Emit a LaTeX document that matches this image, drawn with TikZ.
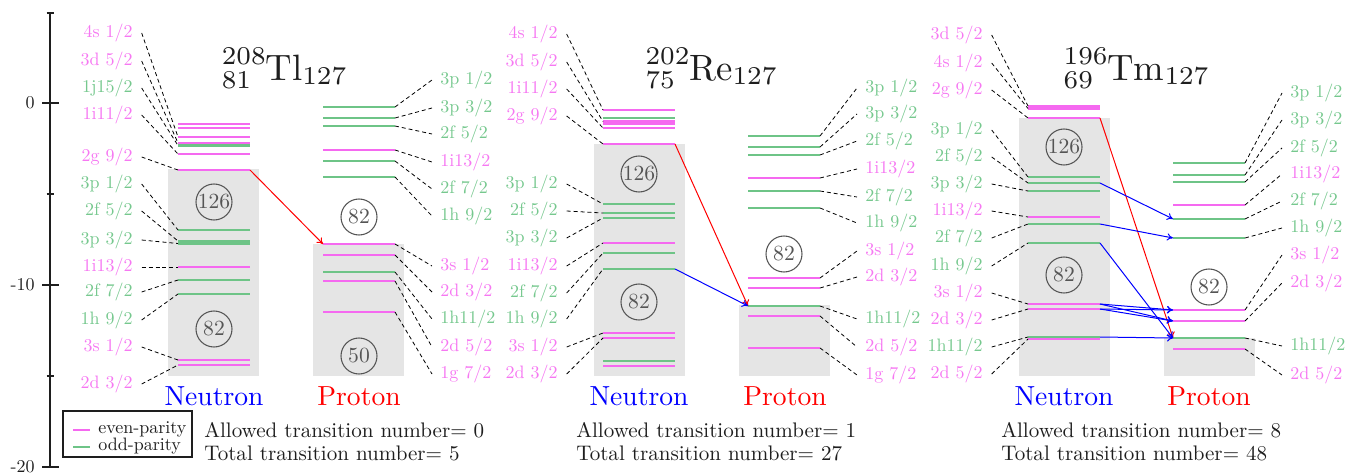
\documentclass[tikz,border=0pt]{standalone}
\usetikzlibrary{arrows.meta}
\definecolor{pk}{RGB}{245,105,240}
\definecolor{gn}{RGB}{110,196,135}
\definecolor{pkt}{RGB}{246,120,242}
\definecolor{gnt}{RGB}{118,200,142}
\definecolor{boxgray}{RGB}{229,229,229}
\definecolor{cgray}{RGB}{85,85,85}
\definecolor{ink}{RGB}{30,30,30}
\tikzset{
 base font/.style={font=\fontsize{10}{12}\selectfont},
 lev/.style={line width=2.2pt},
 dsh/.style={black, line width=0.6pt, dash pattern=on 3pt off 2.2pt},
 lab/.style={inner sep=0pt, base font},
 shellbox/.style={fill=boxgray, draw=none},
 magic/.style={circle, draw=cgray, line width=0.8pt, minimum size=27pt, inner sep=0pt, text=cgray, base font},
 side/.style={base font, anchor=base, inner sep=0pt},
 info/.style={base font, anchor=base west, text=ink, inner sep=0pt},
 ttl/.style={base font, anchor=base, text=ink, inner sep=0pt},
 trans/.style={line width=0.75pt, -{To[length=4.5pt,width=5.5pt]}},
 axis/.style={line width=0.9pt, ink},
}
\newcommand\LT[1]{\scalebox{1.35}{#1}}
\newcommand\IT[1]{\scalebox{1.58}{#1}}
\newcommand\ST[1]{\scalebox{2.07}{#1}}
\newcommand\MT[1]{\scalebox{1.62}{#1}}
\newcommand\scr[1]{{\fontsize{7}{8}\selectfont #1}}
\newcommand\Nuc[4]{\scalebox{2.75}{\rlap{\raisebox{-2.4pt}{\scr{#2}}}\raisebox{4.3pt}{\scr{#1}}#3\raisebox{-1.2pt}{\scr{#4}}}}
% level: name x1 x2 y colour
\newcommand\Lv[5]{\draw[lev,#5] (#2,#4) coordinate (#1L) -- (#3,#4) coordinate (#1R);}
% neutron-side label: name text colour (x,y) target
\newcommand\NLab[5]{\node[lab,text=#3,anchor=east] (#1) at (#4) {\LT{#2}};
 \draw[dsh] ([xshift=6.5pt]#1.east) -- (#5L);}
% proton-side label
\newcommand\PLab[5]{\node[lab,text=#3,anchor=west] (#1) at (#4) {\LT{#2}};
 \draw[dsh] (#5R) -- ([xshift=-6pt]#1.west);}
\begin{document}
\begin{tikzpicture}[x=0.75pt,y=-0.75pt]
\useasboundingbox (0,0) rectangle (1370,475);

% axis
\draw[axis] (50,13) -- (50,467);
\foreach \yy in {103,285,467} \draw[axis] (42,\yy) -- (59,\yy);
\foreach \yy in {13,194,376} \draw[axis] (46.5,\yy) -- (54,\yy);
\node[lab,anchor=east,text=ink] (t0) at (35,103) {\LT{0}};
\node[lab,anchor=east,text=ink] (t10) at (35,285) {\LT{-10}};
\node[lab,anchor=east,text=ink] (t20) at (35,467) {\LT{-20}};

% legend
\draw[line width=1pt, ink] (63,411) rectangle (192,457);
\draw[pk,line width=1pt] (73,430) -- (90,430);
\draw[gn,line width=1pt] (73,447) -- (90,447);
\node[lab,anchor=west,text=ink] (le) at (98,429) {\LT{even-parity}};
\node[lab,anchor=west,text=ink] (lo) at (98,446) {\LT{odd-parity}};

%================ panel 1 : Tl
\fill[shellbox] (168,169) rectangle (259,376);
\fill[shellbox] (313,244) rectangle (404,376);
\node[ttl] (T1) at (284,80) {\Nuc{208}{81}{Tl}{127}};
\Lv{a1}{178}{250}{124}{pk}
\Lv{a2}{178}{250}{128}{pk}
\Lv{a3}{178}{250}{137}{pk}
\Lv{a4g}{178}{250}{145.5}{gn}
\Lv{a4}{178}{250}{143}{pk}
\Lv{a5}{178}{250}{154}{pk}
\Lv{a6}{178}{250}{170}{pk}
\Lv{a7}{178}{250}{230}{gn}
\Lv{a8}{178}{250}{241}{gn}
\Lv{a9}{178}{250}{243.5}{gn}
\Lv{a10}{178}{250}{267}{pk}
\Lv{a11}{178}{250}{280}{gn}
\Lv{a12}{178}{250}{294}{gn}
\Lv{a13}{178}{250}{360}{pk}
\Lv{a14}{178}{250}{365}{pk}
\NLab{na1}{4s 1/2}{pkt}{133,33}{a3}
\NLab{na2}{3d 5/2}{pkt}{133,61}{a4}
\NLab{na3}{1j15/2}{gnt}{133,88}{a4g}
\NLab{na4}{1i11/2}{pkt}{133,115}{a5}
\NLab{na5}{2g 9/2}{pkt}{133,157}{a6}
\NLab{na6}{3p 1/2}{gnt}{133,184}{a7}
\NLab{na7}{2f 5/2}{gnt}{133,211}{a8}
\NLab{na8}{3p 3/2}{gnt}{133,240}{a9}
\NLab{na9}{1i13/2}{pkt}{133,267}{a10}
\NLab{na10}{2f 7/2}{gnt}{133,292}{a11}
\NLab{na11}{1h 9/2}{gnt}{133,320}{a12}
\NLab{na12}{3s 1/2}{pkt}{133,347}{a13}
\NLab{na13}{2d 3/2}{pkt}{133,384}{a14}
\Lv{b1}{323}{395}{107}{gn}
\Lv{b2}{323}{395}{118}{gn}
\Lv{b3}{323}{395}{126}{gn}
\Lv{b4}{323}{395}{150}{pk}
\Lv{b5}{323}{395}{161}{gn}
\Lv{b6}{323}{395}{177}{gn}
\Lv{b7}{323}{395}{244}{pk}
\Lv{b8}{323}{395}{255}{pk}
\Lv{b9}{323}{395}{272}{gn}
\Lv{b10}{323}{395}{281}{pk}
\Lv{b11}{323}{395}{312}{pk}
\PLab{pb1}{3p 1/2}{gnt}{440,80}{b1}
\PLab{pb2}{3p 3/2}{gnt}{440,108}{b2}
\PLab{pb3}{2f 5/2}{gnt}{440,134}{b3}
\PLab{pb4}{1i13/2}{pkt}{440,162}{b4}
\PLab{pb5}{2f 7/2}{gnt}{440,189}{b5}
\PLab{pb6}{1h 9/2}{gnt}{440,216}{b6}
\PLab{pb7}{3s 1/2}{pkt}{440,266}{b7}
\PLab{pb8}{2d 3/2}{pkt}{440,292}{b8}
\PLab{pb9}{1h11/2}{gnt}{440,319}{b9}
\PLab{pb10}{2d 5/2}{pkt}{440,347}{b10}
\PLab{pb11}{1g 7/2}{pkt}{440,374}{b11}
\node[magic] (m1a) at (214,202) {\MT{126}};
\node[magic] (m1b) at (214,329) {\MT{82}};
\node[magic] (m1c) at (359,217) {\MT{82}};
\node[magic] (m1d) at (359,356) {\MT{50}};
\draw[trans,red] (a6R) -- (b7L);
\node[side,text=blue] (N1) at (214,405) {\ST{Neutron}};
\node[side,text=red] (P1) at (359,405) {\ST{Proton}};
\node[info] (A1) at (204,437) {\IT{Allowed transition number= 0}};
\node[info] (S1) at (204,460) {\IT{Total transition number= 5}};

%================ panel 2 : Re
\fill[shellbox] (594,144) rectangle (685,376);
\fill[shellbox] (739,305) rectangle (830,376);
\node[ttl] (T2) at (711,80) {\Nuc{202}{75}{Re}{127}};
\Lv{c1}{603}{675}{110}{pk}
\Lv{c2}{603}{675}{118}{gn}
\Lv{c3}{603}{675}{121.5}{pk}
\Lv{c4}{603}{675}{124}{pk}
\Lv{c5}{603}{675}{128}{pk}
\Lv{c6}{603}{675}{144}{pk}
\Lv{c7}{603}{675}{204}{gn}
\Lv{c8}{603}{675}{213}{gn}
\Lv{c9}{603}{675}{218}{gn}
\Lv{c10}{603}{675}{243}{pk}
\Lv{c11}{603}{675}{253}{gn}
\Lv{c12}{603}{675}{269}{gn}
\Lv{c13}{603}{675}{333}{pk}
\Lv{c14}{603}{675}{338}{pk}
\Lv{c15}{603}{675}{361}{gn}
\Lv{c16}{603}{675}{366}{pk}
\NLab{nc1}{4s 1/2}{pkt}{558,34}{c1}
\NLab{nc2}{3d 5/2}{pkt}{558,62}{c3}
\NLab{nc3}{1i11/2}{pkt}{558,89}{c5}
\NLab{nc4}{2g 9/2}{pkt}{558,116}{c6}
\NLab{nc5}{3p 1/2}{gnt}{558,184}{c7}
\NLab{nc6}{2f 5/2}{gnt}{558,211}{c8}
\NLab{nc7}{3p 3/2}{gnt}{558,238}{c9}
\NLab{nc8}{1i13/2}{pkt}{558,266}{c10}
\NLab{nc9}{2f 7/2}{gnt}{558,293}{c11}
\NLab{nc10}{1h 9/2}{gnt}{558,319}{c12}
\NLab{nc11}{3s 1/2}{pkt}{558,347}{c13}
\NLab{nc12}{2d 3/2}{pkt}{558,374}{c14}
\Lv{d1}{748}{820}{136}{gn}
\Lv{d2}{748}{820}{147}{gn}
\Lv{d3}{748}{820}{155}{gn}
\Lv{d4}{748}{820}{178}{pk}
\Lv{d5}{748}{820}{191}{gn}
\Lv{d6}{748}{820}{208}{gn}
\Lv{d7}{748}{820}{278}{pk}
\Lv{d8}{748}{820}{288}{pk}
\Lv{d9}{748}{820}{306}{gn}
\Lv{d10}{748}{820}{316}{pk}
\Lv{d11}{748}{820}{348}{pk}
\PLab{pd1}{3p 1/2}{gnt}{865,88}{d1}
\PLab{pd2}{3p 3/2}{gnt}{865,114}{d2}
\PLab{pd3}{2f 5/2}{gnt}{865,141}{d3}
\PLab{pd4}{1i13/2}{pkt}{865,169}{d4}
\PLab{pd5}{2f 7/2}{gnt}{865,197}{d5}
\PLab{pd6}{1h 9/2}{gnt}{865,223}{d6}
\PLab{pd7}{3s 1/2}{pkt}{865,251}{d7}
\PLab{pd8}{2d 3/2}{pkt}{865,277}{d8}
\PLab{pd9}{1h11/2}{gnt}{865,319}{d9}
\PLab{pd10}{2d 5/2}{pkt}{865,347}{d10}
\PLab{pd11}{1g 7/2}{pkt}{865,375}{d11}
\node[magic] (m2a) at (639,174) {\MT{126}};
\node[magic] (m2b) at (639,302) {\MT{82}};
\node[magic] (m2c) at (784,254) {\MT{82}};
\draw[trans,red] (c6R) -- (d9L);
\draw[trans,blue] (c12R) -- (d9L);
\node[side,text=blue] (N2) at (639,405) {\ST{Neutron}};
\node[side,text=red] (P2) at (785,405) {\ST{Proton}};
\node[info] (A2) at (576,437) {\IT{Allowed transition number= 1}};
\node[info] (S2) at (576,460) {\IT{Total transition number= 27}};

%================ panel 3 : Tm
\fill[shellbox] (1019,118) rectangle (1110,376);
\fill[shellbox] (1164,338) rectangle (1255,376);
\node[ttl] (T3) at (1136,80) {\Nuc{196}{69}{Tm}{127}};
\Lv{e1}{1028}{1100}{106}{pk}
\Lv{e2}{1028}{1100}{108.5}{pk}
\Lv{e3}{1028}{1100}{118}{pk}
\Lv{e4}{1028}{1100}{177}{gn}
\Lv{e5}{1028}{1100}{183}{gn}
\Lv{e6}{1028}{1100}{191}{gn}
\Lv{e7}{1028}{1100}{217}{pk}
\Lv{e8}{1028}{1100}{224}{gn}
\Lv{e9}{1028}{1100}{243}{gn}
\Lv{e10}{1028}{1100}{304}{pk}
\Lv{e11}{1028}{1100}{309}{pk}
\Lv{e12p}{1028}{1100}{339}{pk}
\Lv{e12}{1028}{1100}{337}{gn}
\NLab{ne1}{3d 5/2}{pkt}{983,35}{e1}
\NLab{ne2}{4s 1/2}{pkt}{983,63}{e2}
\NLab{ne3}{2g 9/2}{pkt}{983,90}{e3}
\NLab{ne4}{3p 1/2}{gnt}{983,130}{e4}
\NLab{ne5}{2f 5/2}{gnt}{983,157}{e5}
\NLab{ne6}{3p 3/2}{gnt}{983,184}{e6}
\NLab{ne7}{1i13/2}{pkt}{983,211}{e7}
\NLab{ne8}{2f 7/2}{gnt}{983,238}{e8}
\NLab{ne9}{1h 9/2}{gnt}{983,266}{e9}
\NLab{ne10}{3s 1/2}{pkt}{983,293}{e10}
\NLab{ne11}{2d 3/2}{pkt}{983,320}{e11}
\NLab{ne12}{1h11/2}{gnt}{983,347}{e12}
\NLab{ne13}{2d 5/2}{pkt}{983,374}{e12p}
\Lv{f1}{1173}{1245}{163}{gn}
\Lv{f2}{1173}{1245}{175}{gn}
\Lv{f3}{1173}{1245}{182}{gn}
\Lv{f4}{1173}{1245}{205}{pk}
\Lv{f5}{1173}{1245}{219}{gn}
\Lv{f6}{1173}{1245}{238}{gn}
\Lv{f7}{1173}{1245}{310}{pk}
\Lv{f8}{1173}{1245}{321}{pk}
\Lv{f9}{1173}{1245}{338}{gn}
\Lv{f10}{1173}{1245}{349}{pk}
\PLab{pf1}{3p 1/2}{gnt}{1290,93}{f1}
\PLab{pf2}{3p 3/2}{gnt}{1290,120}{f2}
\PLab{pf3}{2f 5/2}{gnt}{1290,148}{f3}
\PLab{pf4}{1i13/2}{pkt}{1290,174}{f4}
\PLab{pf5}{2f 7/2}{gnt}{1290,201}{f5}
\PLab{pf6}{1h 9/2}{gnt}{1290,228}{f6}
\PLab{pf7}{3s 1/2}{pkt}{1290,255}{f7}
\PLab{pf8}{2d 3/2}{pkt}{1290,283}{f8}
\PLab{pf9}{1h11/2}{gnt}{1290,346}{f9}
\PLab{pf10}{2d 5/2}{pkt}{1290,375}{f10}
\node[magic] (m3a) at (1064,147) {\MT{126}};
\node[magic] (m3b) at (1064,275) {\MT{82}};
\node[magic] (m3c) at (1209,287) {\MT{82}};
\draw[trans,red] (e3R) -- (f9L);
\draw[trans,blue] (e5R) -- (f5L);
\draw[trans,blue] (e8R) -- (f6L);
\draw[trans,blue] (e9R) -- (f9L);
\draw[trans,blue] (e10R) -- (f7L);
\draw[trans,blue] (e10R) -- (f8L);
\draw[trans,blue] (e11R) -- (f7L);
\draw[trans,blue] (e11R) -- (f8L);
\draw[trans,blue] (e12R) -- (f9L);
\node[side,text=blue] (N3) at (1064,405) {\ST{Neutron}};
\node[side,text=red] (P3) at (1209,405) {\ST{Proton}};
\node[info] (A3) at (1001,437) {\IT{Allowed transition number= 8}};
\node[info] (S3) at (1001,460) {\IT{Total transition number= 48}};
\end{tikzpicture}
\end{document}
